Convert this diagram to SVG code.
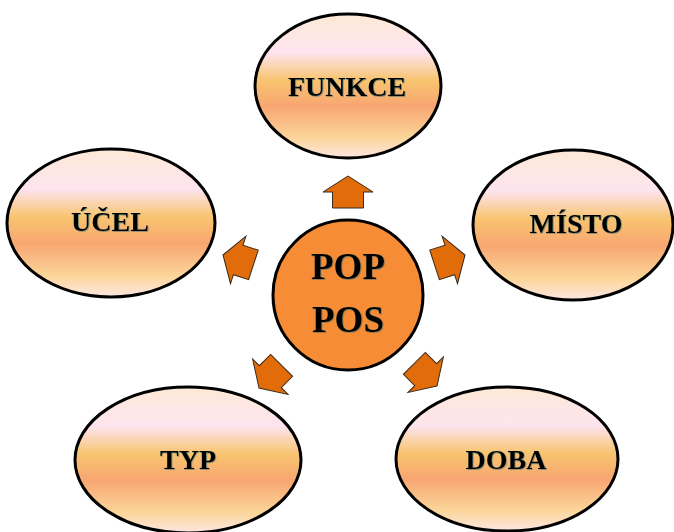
<svg xmlns="http://www.w3.org/2000/svg" width="674" height="532" viewBox="0 0 674 532">
<defs>
<linearGradient id="peach" x1="0" y1="0" x2="0" y2="1">
<stop offset="0" stop-color="#fde9d6"/>
<stop offset="0.27" stop-color="#fde4ef"/>
<stop offset="0.46" stop-color="#f8c46f"/>
<stop offset="0.64" stop-color="#f8a672"/>
<stop offset="0.86" stop-color="#fbd69a"/>
<stop offset="1" stop-color="#fde6e2"/>
</linearGradient>
<filter id="sh" x="-10%" y="-10%" width="120%" height="130%">
<feDropShadow dx="0.7" dy="0.7" stdDeviation="0.3" flood-color="#1d5a66" flood-opacity="0.6"/>
</filter>
<polygon id="arr" points="0,0 25,16 15.5,16 15.5,32 -15.5,32 -15.5,16 -25,16"/>
</defs>
<style>
.node ellipse{fill:url(#peach);stroke:#000;stroke-width:3}
.lbl{font-family:"Liberation Serif","Times New Roman",serif;font-weight:bold;font-size:28px;fill:#000;text-anchor:middle;filter:url(#sh)}
.big{font-size:37px}
.conn use{fill:#e36c0a;stroke:#3a2a1a;stroke-width:1}
</style>
<g id="conn" class="conn">
<use href="#arr" transform="translate(348,176)"/>
<use href="#arr" transform="translate(465,255) rotate(72)"/>
<use href="#arr" transform="translate(437,386) rotate(135)"/>
<use href="#arr" transform="translate(259,388) rotate(225)"/>
<use href="#arr" transform="translate(223,255) rotate(288)"/>
</g>
<g id="center" class="node">
<circle cx="348" cy="295" r="75" fill="#f68c35" stroke="#000" stroke-width="3"/>
<text class="lbl big" x="348" y="279">POP</text>
<text class="lbl big" x="348" y="332">POS</text>
</g>
<g id="funkce" class="node">
<ellipse cx="348" cy="86" rx="93" ry="72"/>
<text class="lbl" x="347" y="96">FUNKCE</text>
</g>
<g id="ucel" class="node">
<ellipse cx="111" cy="223" rx="104" ry="74"/>
<text class="lbl" x="110" y="231">ÚČEL</text>
</g>
<g id="misto" class="node">
<ellipse cx="573" cy="225" rx="100" ry="75"/>
<text class="lbl" x="576" y="233">MÍSTO</text>
</g>
<g id="typ" class="node">
<ellipse cx="188" cy="460" rx="113" ry="73"/>
<text class="lbl" x="188" y="469">TYP</text>
</g>
<g id="doba" class="node">
<ellipse cx="507" cy="459" rx="111" ry="72"/>
<text class="lbl" x="506" y="469">DOBA</text>
</g>
</svg>
